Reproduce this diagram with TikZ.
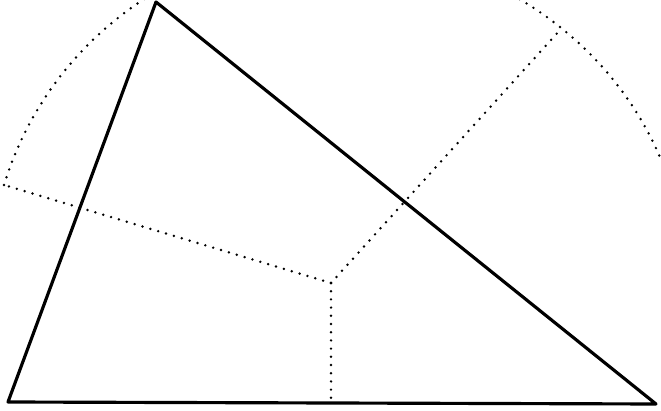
\documentclass[tikz,border=0pt]{standalone}
\usepackage{tikz}
\tikzstyle{side} = [line width=2.7pt, line join=round, color=black]
\tikzstyle{guide} = [line width=2.3pt, line cap=round, dash pattern=on 0pt off 7pt, color=black]

\begin{document}
\begin{tikzpicture}
\useasboundingbox (0,0) rectangle (19.83,12.33);
\clip (0,0) rectangle (19.83,12.33);
% vertices and circumcentre
\coordinate (A) at (4.68,12.27);
\coordinate (B) at (0.24,0.27);
\coordinate (C) at (19.68,0.21);
\coordinate (O) at (9.93,3.84);
% feet of the bisectors
\coordinate (Mbc) at (9.93,0.33);
\coordinate (L) at (0.12,6.78);
\coordinate (R) at (16.80,11.43);

\draw[side] (A) -- (B) -- (C) -- cycle;

\draw[guide] (O) -- (Mbc);
\draw[guide] (O) -- (L);
\draw[guide] (O) -- (R);

% circle, top parts only
\draw[guide] (L) arc[start angle=163, end angle=110, radius=10.2];
\draw[guide] ([shift={(14:10.65 and 10.05)}]O) arc[start angle=14, end angle=70, x radius=10.65, y radius=10.05];
\end{tikzpicture}
\end{document}
